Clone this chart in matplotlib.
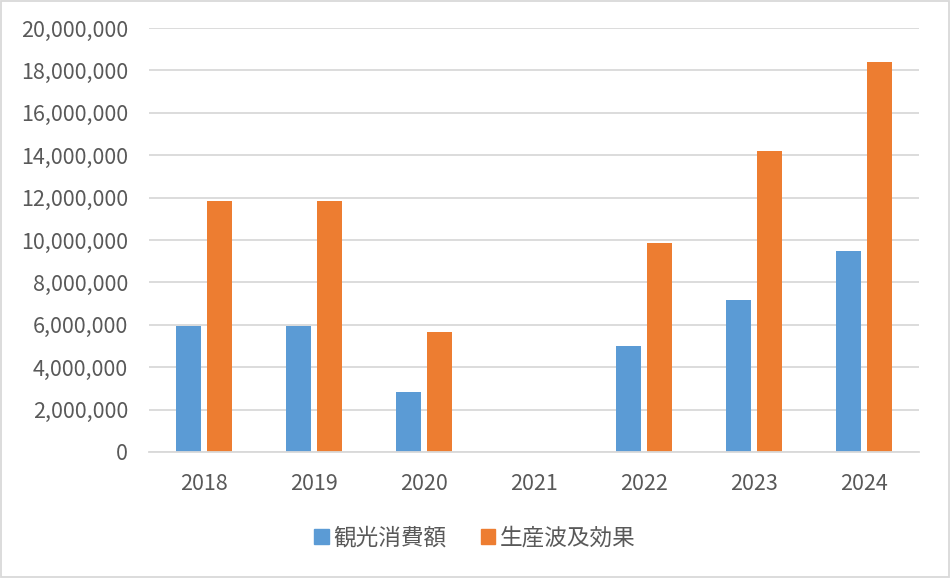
import numpy as np
import matplotlib.pyplot as plt
from matplotlib.patches import Patch, Rectangle
from matplotlib.ticker import FuncFormatter

plt.rcParams['font.family'] = ['Noto Sans CJK JP', 'DejaVu Sans']

years = ['2018', '2019', '2020', '2021', '2022', '2023', '2024']
consumption = [5950000, 5950000, 2820000, 0, 4990000, 7180000, 9460000]   # 観光消費額
ripple = [11840000, 11840000, 5650000, 0, 9840000, 14220000, 18410000]    # 生産波及効果

blue = '#5B9BD5'
orange = '#ED7D31'
txt = '#595959'

fig = plt.figure(figsize=(9.5, 5.78), dpi=100)
ax = fig.add_axes([149/950, 1-452/578, 770/950, 424/578])

x = np.arange(len(years))
w = 0.23
ax.bar(x - 0.14, consumption, w, color=blue)
ax.bar(x + 0.14, ripple, w, color=orange)

ax.set_xlim(-0.5, len(years) - 0.5)
ax.set_ylim(0, 20000000)
ax.set_yticks(np.arange(0, 20000001, 2000000))
ax.yaxis.set_major_formatter(FuncFormatter(lambda v, p: f'{int(v):,}'))
ax.set_xticks(x)
ax.set_xticklabels(years)

ax.grid(axis='y', color='#D9D9D9', linewidth=1.3)
ax.set_axisbelow(True)
for s in ['top', 'right', 'left']:
    ax.spines[s].set_visible(False)
ax.spines['bottom'].set_color('#D9D9D9')
ax.spines['bottom'].set_linewidth(1.3)
ax.tick_params(axis='y', length=0, pad=15, labelsize=15.5, labelcolor=txt)
ax.tick_params(axis='x', length=0, pad=15, labelsize=15.5, labelcolor=txt)

handles = [Patch(color=blue, label='観光消費額'), Patch(color=orange, label='生産波及効果')]
fig.legend(handles=handles, loc='center', bbox_to_anchor=(0.5, 1-538/578), ncol=2,
           frameon=False, fontsize=16.3, labelcolor=txt, handlelength=0.65, handleheight=0.65,
           handletextpad=0.2, columnspacing=1.5)

fig.patches.append(Rectangle((0.001, 0.001), 0.998, 0.998, transform=fig.transFigure,
                             fill=False, edgecolor='#D9D9D9', linewidth=1.3))

fig.savefig('out.png', dpi=100)
